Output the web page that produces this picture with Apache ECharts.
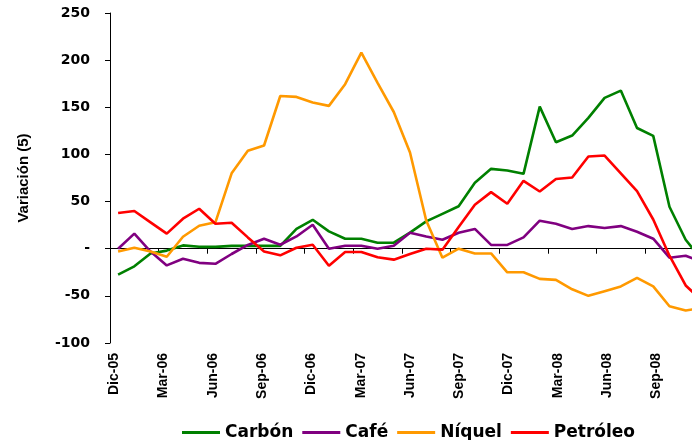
<!DOCTYPE html>
<html>
<head>
<meta charset="utf-8">
<script src="https://cdn.jsdelivr.net/npm/echarts@6/dist/echarts.min.js"></script>
<style>html,body{margin:0;padding:0;background:#fff}#c{width:692px;height:440px}</style>
</head>
<body>
<div id="c"></div>
<script>
const months = ['Dic-05','Ene-06','Feb-06','Mar-06','Abr-06','May-06','Jun-06','Jul-06','Ago-06','Sep-06','Oct-06','Nov-06',
  'Dic-06','Ene-07','Feb-07','Mar-07','Abr-07','May-07','Jun-07','Jul-07','Ago-07','Sep-07','Oct-07','Nov-07',
  'Dic-07','Ene-08','Feb-08','Mar-08','Abr-08','May-08','Jun-08','Jul-08','Ago-08','Sep-08','Oct-08','Nov-08','Dic-08'];
const carbon = [-27.5,-18.7,-5,-2,3.5,2,2,3,3,3,3,21,30.7,18.4,10.6,10.6,6.4,6.4,17,29,37,45,70,84.7,83,79.4,150.7,113,120,138.7,160,167.7,128,119.7,44.5,9.5,-12];
const cafe = [0,16,-3,-17.7,-10.6,-15,-16,-5.6,4,10.6,4.2,13,25.4,0,3.2,3.2,0,3.2,17,13,9.5,17,21,4,4,12,29.7,26.5,21,24,22,24,18,10.6,-9.5,-7.4,-14];
const niquel = [-3,1,-3,-8.5,12.7,24.4,28,80,104,109.5,162,161,155,151.5,174.5,208,176,145,102,30,-9.5,0,-5,-5,-25,-25,-32,-33,-43,-50,-45,-40,-31,-40,-61,-65.5,-63];
const petroleo = [37.8,40,28,16,31.8,42.4,26.5,27.5,12,-3,-7,1,4.2,-18,-3.5,-3.5,-9,-11.6,-5.6,0,-1,23,46.6,60,47.7,72,60.7,74,75.5,97.8,98.8,80,61,31,-7.4,-39,-55];
const seriesNames = ['Carbón','Café','Níquel','Petróleo'];
const colors = ['#008000','#800080','#FF9900','#FF0000'];
const yTitle = 'Variación (5)';

const chart = echarts.init(document.getElementById('c'), null, {renderer:'canvas'});
const dataSets = [carbon, cafe, niquel, petroleo];
chart.setOption({
  animation: false,
  backgroundColor: '#fff',
  grid: [
    {left:110, top:13, bottom:97, right:-18, outerBoundsMode:'none'},
    {left:106, top:13, bottom:97, right:-22, outerBoundsMode:'none'}
  ],
  legend: {
    data: seriesNames,
    left: 177, top: 419,
    icon: 'rect', itemWidth: 38, itemHeight: 3, itemGap: 9,
    textStyle: {fontFamily:'DejaVu Sans', fontWeight:'bold', fontSize:17, color:'#000'}
  },
  xAxis: [
    {type:'category', gridIndex:0, data: months, boundaryGap:true,
     axisLine:{onZero:true, lineStyle:{color:'#000', width:1}},
     axisTick:{show:true, interval:2, length:5, inside:false, lineStyle:{color:'#000'}},
     axisLabel:{show:false}, splitLine:{show:false}},
    {type:'category', gridIndex:1, data: months, boundaryGap:true, position:'bottom',
     axisLine:{show:false}, axisTick:{show:false},
     axisLabel:{show:true, interval:2, rotate:90, margin:10,
       fontFamily:'Liberation Sans', fontWeight:'bold', fontSize:14, color:'#000'},
     splitLine:{show:false}}
  ],
  yAxis: [
    {type:'value', gridIndex:0, min:-100, max:250, interval:50,
     name: yTitle, nameLocation:'middle', nameGap:79, nameRotate:90,
     nameTextStyle:{fontFamily:'Liberation Sans', fontWeight:'bold', fontSize:15, color:'#000'},
     axisLine:{show:true, lineStyle:{color:'#000', width:1}},
     axisTick:{show:true, length:5, lineStyle:{color:'#000'}},
     axisLabel:{margin:20, fontFamily:'DejaVu Sans', fontWeight:'bold', fontSize:14, color:'#000',
       formatter: v => v === 0 ? '-' : String(v)},
     splitLine:{show:false}},
    {type:'value', gridIndex:1, min:-100, max:250, show:false}
  ],
  series: dataSets.map((d,i) => ({
    name: seriesNames[i], type:'line', xAxisIndex:0, yAxisIndex:0,
    data: d, showSymbol:false, symbol:'none', smooth:false,
    lineStyle:{color:colors[i], width:2.6}, itemStyle:{color:colors[i]},
    clip:true
  }))
});
</script>
</body>
</html>
